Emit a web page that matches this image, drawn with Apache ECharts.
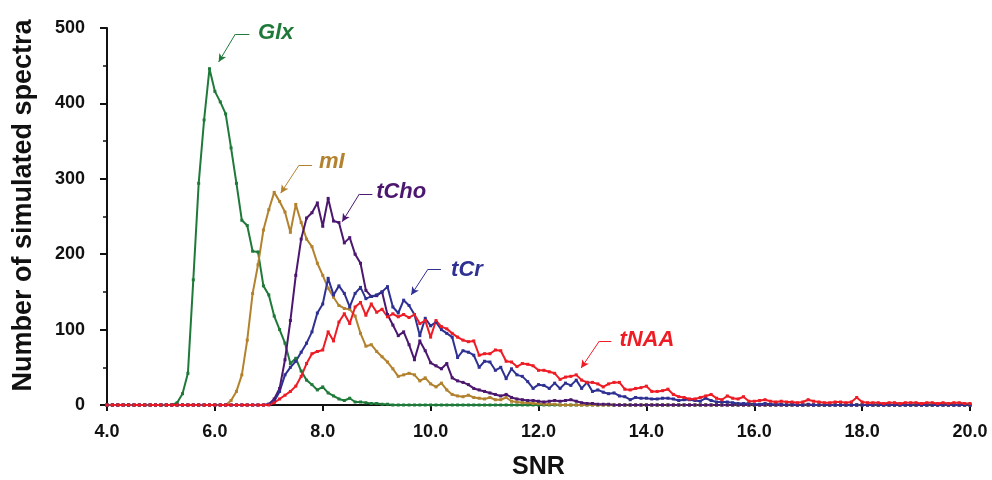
<!DOCTYPE html>
<html>
<head>
<meta charset="utf-8">
<script src="https://cdn.jsdelivr.net/npm/echarts@6/dist/echarts.min.js"></script>
<style>
  html, body { margin: 0; padding: 0; background: #fff; }
  #main { width: 992px; height: 480px; }
</style>
</head>
<body>
<div id="main"></div>
<script>
// SNR axis steps 0.1 from 4.0 to 20.0 (161 points)
var snr = [];
for (var i = 0; i <= 160; i++) {
    snr.push(+(4 + i * 0.1).toFixed(1));
}

// values, one row per unit of SNR (4.x, 5.x, ...), last entry is 20.0
var glx = [
    0, 0, 0, 0, 0, 0, 0, 0, 0, 0,
    0, 0, 0, 3, 15, 42, 166, 294, 378, 446,
    416, 402, 386, 341, 294, 245, 238, 204, 203, 158,
    146, 118, 100, 82, 55, 62, 45, 33, 27, 20,
    24, 16, 12, 8, 6, 9, 4, 4, 3, 2,
    2, 1, 1, 0, 0, 0, 0, 0, 0, 0,
    0, 0, 0, 0, 0, 0, 0, 0, 0, 0,
    0, 0, 0, 0, 0, 0, 0, 0, 0, 0,
    0, 0, 0, 0, 0, 0, 0, 0, 0, 0,
    0, 0, 0, 0, 0, 0, 0, 0, 0, 0,
    0, 0, 0, 0, 0, 0, 0, 0, 0, 0,
    0, 0, 0, 0, 0, 0, 0, 0, 0, 0,
    0, 0, 0, 0, 0, 0, 0, 0, 0, 0,
    0, 0, 0, 0, 0, 0, 0, 0, 0, 0,
    0, 0, 0, 0, 0, 0, 0, 0, 0, 0,
    0, 0, 0, 0, 0, 0, 0, 0, 0, 0,
    0
];
var mI = [
    0, 0, 0, 0, 0, 0, 0, 0, 0, 0,
    0, 0, 0, 0, 0, 0, 0, 0, 0, 0,
    0, 0, 0, 6, 18, 40, 86, 148, 186, 232,
    259, 282, 270, 256, 229, 266, 242, 220, 210, 188,
    172, 155, 143, 132, 128, 127, 118, 95, 78, 80,
    71, 64, 57, 48, 38, 40, 42, 40, 32, 36,
    28, 24, 29, 20, 14, 12, 11, 13, 10, 9,
    8, 10, 7, 7, 10, 5, 4, 3, 3, 2,
    2, 1, 1, 1, 0, 0, 0, 0, 0, 0,
    0, 0, 0, 0, 0, 0, 0, 0, 0, 0,
    0, 0, 0, 0, 0, 0, 0, 0, 0, 0,
    0, 0, 0, 0, 0, 0, 0, 0, 0, 0,
    0, 0, 0, 0, 0, 0, 0, 0, 0, 0,
    0, 0, 0, 0, 0, 0, 0, 0, 0, 0,
    0, 0, 0, 0, 0, 0, 0, 0, 0, 0,
    0, 0, 0, 0, 0, 0, 0, 0, 0, 0,
    0
];
var tCho = [
    0, 0, 0, 0, 0, 0, 0, 0, 0, 0,
    0, 0, 0, 0, 0, 0, 0, 0, 0, 0,
    0, 0, 0, 0, 0, 0, 0, 0, 0, 0,
    1, 8, 22, 60, 112, 172, 220, 248, 255, 268,
    237, 274, 244, 242, 215, 222, 200, 188, 152, 144,
    145, 150, 120, 106, 92, 97, 80, 60, 85, 72,
    56, 52, 48, 55, 36, 32, 30, 27, 22, 20,
    18, 16, 14, 12, 14, 10, 8, 7, 6, 6,
    5, 4, 5, 6, 5, 6, 7, 5, 3, 2,
    2, 1, 1, 1, 0, 0, 0, 0, 0, 0,
    0, 0, 0, 0, 0, 0, 0, 0, 0, 0,
    0, 0, 0, 0, 0, 0, 0, 0, 0, 0,
    0, 0, 0, 0, 0, 0, 0, 0, 0, 0,
    0, 0, 0, 0, 0, 0, 0, 0, 0, 0,
    0, 0, 0, 0, 0, 0, 0, 0, 0, 0,
    0, 0, 0, 0, 0, 0, 0, 0, 0, 0,
    0
];
var tCr = [
    0, 0, 0, 0, 0, 0, 0, 0, 0, 0,
    0, 0, 0, 0, 0, 0, 0, 0, 0, 0,
    0, 0, 0, 0, 0, 0, 0, 0, 0, 0,
    1, 5, 18, 40, 50, 58, 70, 82, 97, 122,
    134, 168, 146, 158, 148, 130, 148, 156, 141, 144,
    146, 150, 157, 130, 122, 139, 132, 120, 92, 115,
    105, 110, 100, 95, 90, 63, 72, 70, 66, 50,
    58, 57, 46, 50, 35, 48, 40, 38, 31, 22,
    27, 26, 22, 29, 22, 29, 26, 33, 22, 30,
    18, 20, 17, 15, 16, 12, 11, 7, 10, 9,
    9, 8, 8, 9, 9, 8, 6, 7, 7, 6,
    5, 9, 6, 4, 4, 4, 3, 2, 2, 2,
    1, 1, 2, 1, 1, 1, 0, 1, 0, 0,
    1, 0, 0, 0, 0, 0, 0, 0, 0, 0,
    0, 0, 0, 0, 0, 0, 0, 0, 0, 0,
    0, 0, 0, 0, 0, 0, 0, 0, 0, 0,
    0
];
var tNAA = [
    0, 0, 0, 0, 0, 0, 0, 0, 0, 0,
    0, 0, 0, 0, 0, 0, 0, 0, 0, 0,
    0, 0, 0, 0, 0, 0, 0, 0, 0, 0,
    0, 3, 8, 13, 18, 25, 38, 55, 68, 71,
    73, 97, 85, 110, 121, 108, 130, 136, 119, 134,
    123, 127, 117, 121, 117, 120, 116, 120, 108, 112,
    90, 112, 104, 101, 95, 90, 86, 84, 85, 66,
    68, 68, 73, 72, 58, 57, 51, 55, 54, 52,
    46, 46, 44, 42, 34, 37, 38, 40, 33, 30,
    30, 28, 24, 28, 30, 30, 21, 20, 22, 23,
    25, 18, 18, 19, 21, 14, 11, 10, 8, 8,
    10, 12, 14, 9, 7, 12, 9, 8, 11, 5,
    5, 6, 7, 5, 4, 5, 4, 4, 3, 4,
    7, 5, 4, 3, 3, 4, 4, 3, 4, 10,
    4, 3, 3, 3, 2, 3, 3, 2, 3, 3,
    3, 2, 3, 3, 2, 3, 2, 3, 3, 2,
    2
];

var names = ['Glx', 'mI', 'tCho', 'tCr', 'tNAA'];
var colors = ['#1f7a3a', '#b3822e', '#4b176f', '#2e3192', '#ee1c25'];
var values = [glx, mI, tCho, tCr, tNAA];

// callouts: [text pos, line end, elbow, arrow tip] in data units
var callouts = [
    [[6.80, 493], [6.64, 492], [6.38, 492], [6.07, 455]],
    [[7.93, 322], [7.80, 318], [7.56, 318], [7.22, 281]],
    [[8.99, 282], [8.92, 280], [8.68, 280], [8.36, 243]],
    [[10.38, 179], [10.19, 180], [9.95, 180], [9.64, 146]],
    [[13.50, 86], [13.35, 85], [13.13, 85], [12.79, 49]]
];

var font = '"Liberation Sans", Arial, sans-serif';
var oChart = echarts.init(document.getElementById('main'));

var series = [];
for (var s = 0; s < names.length; s++) {
    var pts = [];
    for (var k = 0; k < snr.length; k++) {
        pts.push([snr[k], values[s][k]]);
    }
    var c = callouts[s];
    series.push({
        name: names[s],
        type: 'line',
        data: pts,
        symbol: 'rect',
        symbolSize: 3,
        showAllSymbol: true,
        lineStyle: { color: colors[s], width: 2 },
        itemStyle: { color: colors[s] },
        markLine: {
            silent: true,
            animation: false,
            label: { show: false },
            lineStyle: { color: colors[s], width: 1, type: 'solid' },
            symbolSize: [6, 8],
            data: [
                [{ coord: c[1], symbol: 'none' }, { coord: c[2], symbol: 'none' }],
                [{ coord: c[2], symbol: 'none' }, { coord: c[3], symbol: 'arrow' }]
            ]
        }
    });
}

var chartopt = {
    animation: false,
    grid: { left: 107, right: 22, top: 28, bottom: 75, outerBoundsMode: 'none', containLabel: false },
    xAxis: {
        type: 'value',
        min: 4,
        max: 20,
        interval: 2,
        name: 'SNR',
        nameLocation: 'middle',
        nameGap: 50,
        nameTextStyle: { fontFamily: font, fontSize: 25, fontWeight: 'bold', color: '#111' },
        axisLine: { lineStyle: { color: '#111', width: 2 } },
        axisTick: { length: 6, lineStyle: { color: '#111', width: 2 } },
        axisLabel: {
            fontFamily: font, fontSize: 18, fontWeight: 'bold', color: '#111', margin: 18,
            formatter: function (v) { return v.toFixed(1); }
        },
        splitLine: { show: false }
    },
    yAxis: {
        type: 'value',
        min: 0,
        max: 500,
        interval: 100,
        name: 'Number of simulated spectra',
        nameLocation: 'middle',
        nameGap: 70,
        nameTextStyle: { fontFamily: font, fontSize: 27, fontWeight: 'bold', color: '#111', padding: [0, 0, 0, 22] },
        axisLine: { show: true, lineStyle: { color: '#111', width: 2 } },
        axisTick: { show: true, length: 7, lineStyle: { color: '#111', width: 2 } },
        minorTick: { show: true, splitNumber: 2, length: 4, lineStyle: { color: '#111', width: 1.5 } },
        axisLabel: { fontFamily: font, fontSize: 18, fontWeight: 'bold', color: '#111', margin: 22 },
        splitLine: { show: false }
    },
    series: series
};
oChart.setOption(chartopt);

// callout texts placed at their data positions
var texts = [];
for (var t = 0; t < names.length; t++) {
    var p = oChart.convertToPixel({ gridIndex: 0 }, callouts[t][0]);
    texts.push({
        type: 'text',
        x: p[0],
        y: p[1],
        style: {
            text: names[t],
            fill: colors[t],
            font: 'italic bold 22px ' + font,
            verticalAlign: 'middle',
            textVerticalAlign: 'middle'
        }
    });
}
oChart.setOption({ graphic: texts });
</script>
</body>
</html>
